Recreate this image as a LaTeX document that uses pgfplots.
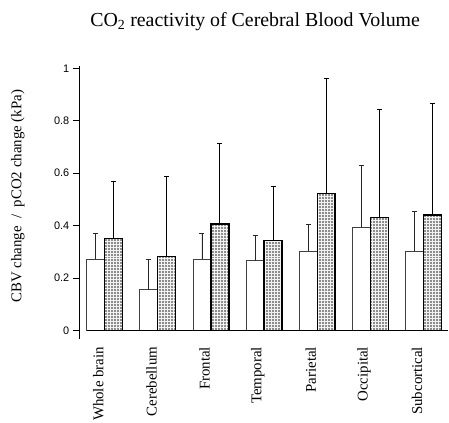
\documentclass[border=0pt]{standalone}
\usepackage{pgfplots}
\pgfplotsset{compat=1.18}
\usepackage{pgfplotstable}
\usepackage{fontspec}
\setmainfont{Liberation Serif}
\newfontfamily\tickfont{Liberation Sans}
\usetikzlibrary{patterns}

\pgfplotstableread{
x  w     we     h     he
0  0.272 0.099  0.351 0.219
1  0.156 0.116  0.283 0.306
2  0.272 0.099  0.406 0.306
3  0.266 0.098  0.342 0.209
4  0.302 0.104  0.522 0.441
5  0.395 0.235  0.431 0.412
6  0.302 0.152  0.440 0.428
}\datatable

\begin{document}
\begin{tikzpicture}
\begin{axis}[
  at={(80bp,84bp)}, anchor=south west,
  scale only axis, width=370bp, height=274bp,
  xmin=-0.47, xmax=6.47, ymin=-0.032, ymax=1.01,
  axis y line=left, axis x line=bottom,
  x axis line style={draw=none},
  y axis line style={-, line width=0.8bp},
  ybar=0pt, bar width=18bp,
  ytick={0,0.2,0.4,0.6,0.8,1},
  yticklabels={0,0.2,0.4,0.6,0.8,1},
  ytick style={line width=0.8bp, black},
  major tick length=7bp,
  tick align=outside,
  yticklabel style={font=\fontsize{11}{11}\selectfont\tickfont},
  xtick={-0.12,0.88,1.88,2.88,3.88,4.88,5.88},
  xtick style={draw=none},
  xticklabels={Whole brain,Cerebellum,Frontal,Temporal,Parietal,Occipital,Subcortical},
  xticklabel style={rotate=90, anchor=east, font=\fontsize{15}{15}\selectfont, inner sep=1bp},
  clip=false,
]
\addplot[fill=white, draw=black!75, line width=0.8bp,
  error bars/.cd, y dir=plus, y explicit,
  error bar style={line width=0.8bp, black!85},
  error mark options={rotate=90, mark size=2.5bp, line width=0.8bp, black!85}]
  table[x=x, y=w, y error=we] {\datatable};
\addplot[fill=black!45, draw=black, line width=1.3bp,
  postaction={pattern=grid, pattern color=white!90!gray},
  error bars/.cd, y dir=plus, y explicit,
  error bar style={line width=0.9bp, black},
  error mark options={rotate=90, mark size=2.5bp, line width=0.9bp, black}]
  table[x=x, y=h, y error=he] {\datatable};
\draw[line width=1.2bp] (axis cs:-0.34,0) -- (axis cs:6.47,0);
\end{axis}
\node[font=\fontsize{20}{20}\selectfont] at (256bp,402bp) {CO\textsubscript{2} reactivity of Cerebral Blood Volume};
\node[rotate=90, font=\fontsize{15}{15}\selectfont] at (18bp,227bp) {CBV change\ \ /\ \ pCO2 change (kPa)};
\path (0,0) rectangle (449bp,424bp);
\end{tikzpicture}
\end{document}
